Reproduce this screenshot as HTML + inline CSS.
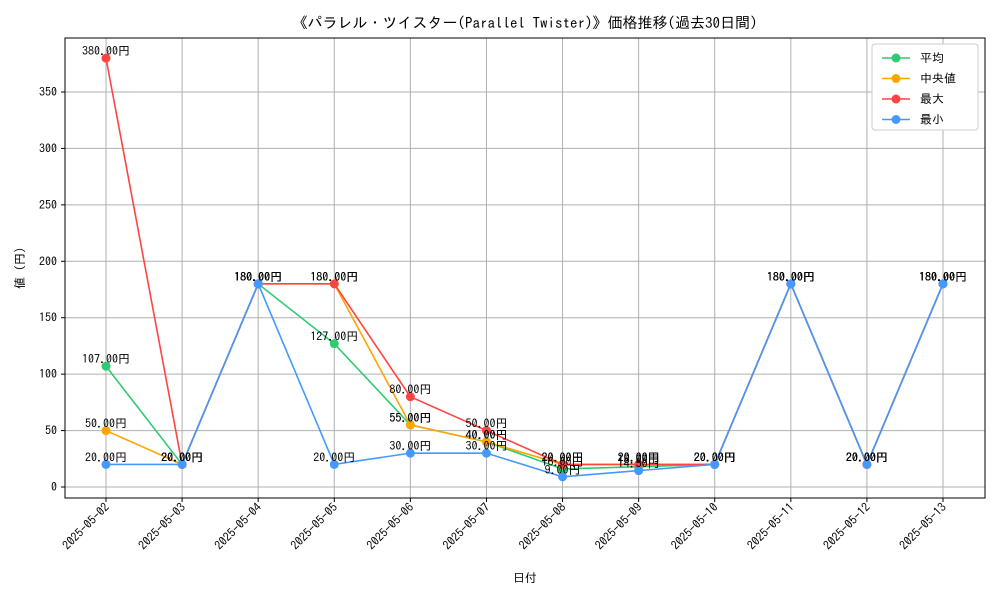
<!DOCTYPE html>
<html><head><meta charset="utf-8">
<style>
body{margin:0;background:#fff;}
svg{display:block;font-family:"IPAGothic","Liberation Sans",sans-serif;}
</style></head>
<body>
<svg id="chart" width="1000" height="600" xmlns="http://www.w3.org/2000/svg">
<rect x="0" y="0" width="1000" height="600" fill="#fff"/>
<text x="525" y="28" font-size="15" text-anchor="middle">《パラレル・ツイスター(Parallel Twister)》価格推移(過去30日間)</text>
<g id="grid"></g>
<g id="series"></g>
<g id="labels"></g>
<rect x="65" y="38" width="920" height="460" fill="none" stroke="#000" stroke-width="1"/>
<g id="axes"></g>
<text x="525" y="582" font-size="12" text-anchor="middle">日付</text>
<text x="24" y="268" font-size="12" text-anchor="middle" transform="rotate(-90 24 268)">値 (円)</text>
<g id="legend">
<rect x="872" y="44" width="106" height="86" fill="#fff" stroke="#ccc" rx="3"/>
</g>
</svg>
<script>
const dates=["2025-05-02","2025-05-03","2025-05-04","2025-05-05","2025-05-06","2025-05-07","2025-05-08","2025-05-09","2025-05-10","2025-05-11","2025-05-12","2025-05-13"];
const avgVals=[107,20,180,127,55,40,16,18,20,180,20,180];
const medianVals=[50,20,180,180,55,40,20,20,20,180,20,180];
const maxVals=[380,20,180,180,80,50,20,20,20,180,20,180];
const minVals=[20,20,180,20,30,30,9,14.5,20,180,20,180];
const yTicks=[0,50,100,150,200,250,300,350];
const seriesNames=["平均","中央値","最大","最小"];
const NS="http://www.w3.org/2000/svg";
function x(i){return 106+i*(943-106)/(dates.length-1);}
function y(v){return 487-v*(487-92)/350;}
function mk(tag,attrs,parent){const e=document.createElementNS(NS,tag);for(const k in attrs)e.setAttribute(k,attrs[k]);parent.appendChild(e);return e;}
const grid=document.getElementById('grid'),axes=document.getElementById('axes'),ser=document.getElementById('series'),lab=document.getElementById('labels'),leg=document.getElementById('legend');
yTicks.forEach(t=>{
 const l=mk('line',{x1:65,x2:985,y1:y(t),y2:y(t),stroke:'#b0b0b0','stroke-width':1},grid);
 
 
 mk('line',{x1:61,x2:65,y1:y(t),y2:y(t),stroke:'#000'},axes);
 const tx=mk('text',{x:57,y:y(t)+4,'font-size':12,'text-anchor':'end'},axes);
 tx.textContent=t;
 
 
});
dates.forEach((d,i)=>{
 const l=mk('line',{x1:x(i),x2:x(i),y1:38,y2:498,stroke:'#b0b0b0','stroke-width':1},grid);
 
 
 mk('line',{x1:x(i),x2:x(i),y1:498,y2:502,stroke:'#000'},axes);
 const tx=mk('text',{x:x(i)+4,y:508,'font-size':12,'text-anchor':'end',transform:`rotate(-45 ${x(i)+4} 508)`},axes);
 tx.textContent=d;
 
 
});
const all=[[avgVals,'#2ecc71'],[medianVals,'#ffa500'],[maxVals,'#ff4444'],[minVals,'#4499ff']];
all.forEach(([vals,c],si)=>{
 const g=mk('g',{},ser);
 
 
 const pl=mk('polyline',{points:vals.map((v,i)=>x(i)+','+y(v)).join(' '),fill:'none',stroke:c,'stroke-width':1.6},g);
 
 
 vals.forEach((v,i)=>{
  const p=mk('circle',{cx:x(i),cy:y(v),r:4.5,fill:c},g);
  
  
  const t=mk('text',{x:x(i),y:y(v)-3,'font-size':12,'text-anchor':'middle'},lab);
  t.textContent=v.toFixed(2)+'円';
  
  
 });
 const ly=58+si*20.5;
 mk('line',{x1:882,x2:910,y1:ly,y2:ly,stroke:c,'stroke-width':1.6},leg);
 mk('circle',{cx:896,cy:ly,r:4.5,fill:c},leg);
 const lt=mk('text',{x:920,y:ly+4,'font-size':12},leg);
 lt.textContent=(si==1?' ':'')+seriesNames[si];
 
 
});
</script>
</body></html>
